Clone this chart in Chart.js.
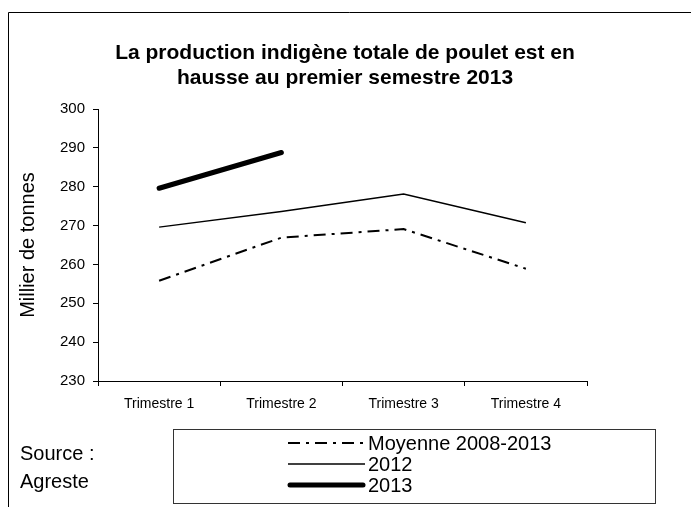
<!DOCTYPE html>
<html>
<head>
<meta charset="utf-8">
<script src="https://cdn.jsdelivr.net/npm/chart.js@4/dist/chart.umd.min.js"></script>
<style>
  html, body { margin: 0; padding: 0; background: #fff; }
  #wrap { width: 691px; height: 507px; position: relative; }
</style>
</head>
<body>
<div id="wrap"><canvas id="c" width="691" height="507"></canvas></div>
<script>
// ---- Data ----
const categories = ['Trimestre 1', 'Trimestre 2', 'Trimestre 3', 'Trimestre 4'];
const moyenne = [255.8, 266.9, 269.1, 258.9];
const serie2012 = [269.6, 273.6, 278.1, 270.7];
const serie2013 = [279.6, 288.8, null, null];
const seriesNames = ['Moyenne 2008-2013', '2012', '2013'];
const yMin = 230, yMax = 300, yStep = 10;
const titleLines = ['La production indigène totale de poulet est en', 'hausse au premier semestre 2013'];
const yTitle = 'Millier de tonnes';
const sourceLines = ['Source :', 'Agreste'];

const FONT = '"Liberation Sans", Arial, sans-serif';

const decorPlugin = {
  id: 'decor',
  afterDraw(chart) {
    const ctx = chart.ctx;
    ctx.save();
    // outer frame (top and left)
    ctx.strokeStyle = '#000';
    ctx.lineWidth = 1;
    ctx.beginPath();
    ctx.moveTo(8.5, 507);
    ctx.lineTo(8.5, 12.5);
    ctx.lineTo(691, 12.5);
    ctx.stroke();

    // title
    ctx.fillStyle = '#000';
    ctx.font = 'bold 21px ' + FONT;
    ctx.textAlign = 'center';
    ctx.textBaseline = 'alphabetic';
    ctx.fillText(titleLines[0], 345, 59);
    ctx.fillText(titleLines[1], 345, 84);

    // source
    ctx.font = '20px ' + FONT;
    ctx.textAlign = 'left';
    ctx.fillText(sourceLines[0], 20, 460);
    ctx.fillText(sourceLines[1], 20, 488);

    // legend box
    ctx.strokeStyle = '#333';
    ctx.lineWidth = 1;
    ctx.strokeRect(173.5, 429.5, 482, 74);
    const rows = [443, 464, 485];
    chart.data.datasets.forEach((ds, i) => {
      const y = rows[i];
      ctx.save();
      ctx.strokeStyle = ds.borderColor;
      ctx.lineWidth = ds.borderWidth;
      ctx.lineCap = ds.borderCapStyle || 'butt';
      ctx.setLineDash(ds.borderDash || []);
      ctx.beginPath();
      const x0 = ds.borderCapStyle === 'round' ? 290 : 288;
      const x1 = ds.borderCapStyle === 'round' ? 363 : 365;
      ctx.moveTo(x0, y);
      ctx.lineTo(x1, y);
      ctx.stroke();
      ctx.restore();
      ctx.fillStyle = '#000';
      ctx.font = '20px ' + FONT;
      ctx.textAlign = 'left';
      ctx.textBaseline = 'alphabetic';
      ctx.fillText(ds.label, 368, y + 7);
    });
    ctx.restore();
  }
};

new Chart(document.getElementById('c'), {
  type: 'line',
  data: {
    labels: categories,
    datasets: [
      { label: seriesNames[0], data: moyenne, borderColor: '#000', borderWidth: 2, borderDash: [12, 6, 3, 6], pointRadius: 0, fill: false, tension: 0 },
      { label: seriesNames[1], data: serie2012, borderColor: '#000', borderWidth: 1.5, pointRadius: 0, fill: false, tension: 0 },
      { label: seriesNames[2], data: serie2013, borderColor: '#000', borderWidth: 5, borderCapStyle: 'round', pointRadius: 0, fill: false, tension: 0, spanGaps: false }
    ]
  },
  options: {
    responsive: false,
    animation: false,
    events: [],
    layout: { padding: { top: 109, right: 104, left: 0, bottom: 0 } },
    plugins: { legend: { display: false }, title: { display: false }, tooltip: { enabled: false } },
    scales: {
      x: {
        type: 'category',
        offset: true,
        grid: { offset: true, drawOnChartArea: false, drawTicks: true, tickLength: 5, color: '#000' },
        border: { display: true, color: '#000', width: 1 },
        ticks: { color: '#000', font: { family: FONT, size: 14 }, padding: 10, maxRotation: 0, autoSkip: false },
        afterFit: (s) => { s.height = 126; }
      },
      y: {
        min: yMin, max: yMax,
        grid: { drawOnChartArea: false, drawTicks: true, tickLength: 5, color: '#000' },
        border: { display: true, color: '#000', width: 1 },
        ticks: { stepSize: yStep, color: '#000', font: { family: FONT, size: 15 }, padding: 8 },
        title: { display: true, text: yTitle, color: '#000', font: { family: FONT, size: 20 }, padding: { top: 16, bottom: 0 } },
        afterFit: (s) => { s.width = 98; }
      }
    }
  },
  plugins: [decorPlugin]
});
</script>
</body>
</html>
